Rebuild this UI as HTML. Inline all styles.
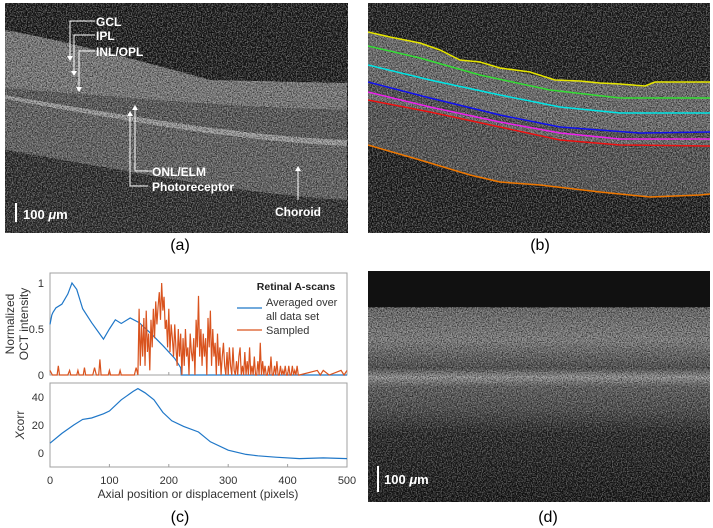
<!DOCTYPE html>
<html><head><meta charset="utf-8"><style>
body{margin:0;background:#fff;}
svg{display:block;font-family:"Liberation Sans",Arial,sans-serif;}
</style></head><body>
<svg id="fig" width="713" height="528" viewBox="0 0 713 528">
<defs>
<filter id="nz" x="0" y="0" width="100%" height="100%" color-interpolation-filters="sRGB">
<feTurbulence type="fractalNoise" baseFrequency="0.8" numOctaves="2" seed="3"/>
<feColorMatrix type="matrix" values="0 0 0 0 1  0 0 0 0 1  0 0 0 0 1  4 0 0 0 -1.7"/>
</filter>
<filter id="nzd" x="0" y="0" width="100%" height="100%" color-interpolation-filters="sRGB">
<feTurbulence type="fractalNoise" baseFrequency="0.8" numOctaves="2" seed="7"/>
<feColorMatrix type="matrix" values="0 0 0 0 0  0 0 0 0 0  0 0 0 0 0  -4 0 0 0 2.3"/>
</filter>
<clipPath id="ca"><rect x="5" y="3" width="343" height="230"/></clipPath>
<clipPath id="cb"><rect x="368" y="3" width="342" height="230"/></clipPath>
<clipPath id="cd"><rect x="368" y="271" width="342" height="231"/></clipPath>
<linearGradient id="gd" x1="0" y1="0" x2="0" y2="1">
<stop offset="0" stop-color="#111"/><stop offset="0.155" stop-color="#111"/><stop offset="0.16" stop-color="#6a6a6a"/><stop offset="0.3" stop-color="#808080"/><stop offset="0.42" stop-color="#4a4a4a"/><stop offset="0.46" stop-color="#999"/><stop offset="0.5" stop-color="#5e5e5e"/><stop offset="0.6" stop-color="#4a4a4a"/><stop offset="0.7" stop-color="#222"/><stop offset="1" stop-color="#111"/>
</linearGradient>
</defs>

<!-- Panel (a) -->
<g clip-path="url(#ca)">
<rect x="5" y="3" width="343" height="230" fill="#141414"/>
<path d="M5,30 C60,40 120,55 210,80 L347,83 L347,233 L5,233 Z" fill="#2a2a2a"/>
<path d="M5,30 C60,40 120,55 210,80 L347,83 L347,110 C250,108 150,100 5,88 Z" fill="#7a7a7a"/>
<path d="M5,88 C150,100 250,108 347,110 L347,140 C250,136 150,120 5,95 Z" fill="#555"/>
<path d="M5,95 C150,120 250,136 347,140 L347,146 C250,142 150,126 5,99 Z" fill="#a0a0a0"/>
<path d="M5,99 C150,126 250,142 347,146 L347,200 C250,195 150,175 5,150 Z" fill="#606060"/>
<path d="M5,150 C150,175 250,195 347,200 L347,233 L5,233 Z" fill="#262626"/>
<rect x="5" y="3" width="343" height="230" filter="url(#nzd)" opacity="0.55"/>
<rect x="5" y="3" width="343" height="230" filter="url(#nz)" opacity="0.35"/>
</g>
<g fill="#fff" font-weight="bold" font-size="12">
<polyline points="95,21 70,21 70,57" fill="none" stroke="#fff" stroke-width="1"/>
<polyline points="95,35 74,35 74,72" fill="none" stroke="#fff" stroke-width="1"/>
<polyline points="95,51 79,51 79,88" fill="none" stroke="#fff" stroke-width="1"/>
<path d="M67,56 L73,56 L70,61 Z M71,71 L77,71 L74,76 Z M76,87 L82,87 L79,92 Z"/>
<text x="96" y="26">GCL</text>
<text x="96" y="40">IPL</text>
<text x="96" y="56">INL/OPL</text>
<polyline points="152,171 135,171 135,110" fill="none" stroke="#fff"/>
<polyline points="148,186 130,186 130,116" fill="none" stroke="#fff"/>
<path d="M132,110 L138,110 L135,105 Z M127,116 L133,116 L130,111 Z"/>
<text x="152" y="176">ONL/ELM</text>
<text x="152" y="191">Photoreceptor</text>
<line x1="298" y1="170" x2="298" y2="200" stroke="#fff"/>
<path d="M295,171 L301,171 L298,166 Z"/>
<text x="275" y="216">Choroid</text>
<line x1="16" y1="203" x2="16" y2="222" stroke="#fff" stroke-width="2"/>
<text x="23" y="219" font-size="13">100 <tspan font-style="italic">μ</tspan>m</text>
</g>
<text x="180" y="250" text-anchor="middle" font-size="16">(a)</text>

<!-- Panel (b) -->
<g clip-path="url(#cb)">
<rect x="368" y="3" width="342" height="230" fill="#161616"/>
<path d="M368,32 L420,43 L460,60 L500,68 L555,80 L600,83 L645,86 L655,82 L710,82 L710,194 L700,195 L650,197 L600,192 L540,185 L500,182 L470,175 L420,160 L368,145 Z" fill="#6a6a6a"/>
<path d="M368,82 L430,98 L500,115 L560,127 L640,133 L710,132 L710,139 L620,139 L560,133 L500,122 L430,107 L368,92 Z" fill="#4a4a4a"/>
<path d="M368,100 L430,112 L500,127 L560,140 L620,145 L710,146 L710,194 L650,197 L600,192 L540,185 L500,182 L470,175 L420,160 L368,145 Z" fill="#505050"/>
<rect x="368" y="3" width="342" height="230" filter="url(#nzd)" opacity="0.55"/>
<rect x="368" y="3" width="342" height="230" filter="url(#nz)" opacity="0.35"/>
<g fill="none" stroke-width="1.5">
<polyline stroke="#e6e600" points="368,32 390,37 420,43 440,50 460,60 480,62 500,68 530,72 555,80 580,81 600,83 620,84 645,86 655,82 680,82 710,82"/>
<polyline stroke="#33dd33" points="368,46 420,58 480,75 550,90 620,98 710,98"/>
<polyline stroke="#00e6e6" points="368,65 430,80 500,95 560,107 620,113 710,113"/>
<polyline stroke="#1010ee" points="368,82 430,98 500,115 560,127 640,133 710,132"/>
<polyline stroke="#ee22ee" points="368,92 430,107 500,122 560,133 620,139 710,139"/>
<polyline stroke="#ee1111" points="368,100 430,112 500,127 560,140 620,145 710,146"/>
<polyline stroke="#ee7700" points="368,145 420,160 470,175 500,182 540,185 600,192 650,197 700,195 710,194"/>
</g>
</g>
<text x="540" y="250" text-anchor="middle" font-size="16">(b)</text>

<!-- Panel (d) -->
<g clip-path="url(#cd)">
<rect x="368" y="271" width="342" height="231" fill="url(#gd)"/>
<rect x="368" y="307" width="342" height="195" filter="url(#nzd)" opacity="0.55"/>
<rect x="368" y="307" width="342" height="195" filter="url(#nz)" opacity="0.3"/>
</g>
<line x1="378" y1="466" x2="378" y2="492" stroke="#fff" stroke-width="2"/>
<text x="384" y="484" fill="#fff" font-weight="bold" font-size="13">100 <tspan font-style="italic">μ</tspan>m</text>
<text x="548" y="522" text-anchor="middle" font-size="16">(d)</text>

<!-- Panel (c) chart -->
<g id="chart"></g>
<text x="180" y="522" text-anchor="middle" font-size="16">(c)</text>
</svg>
<script>
const avgX=[0,3,5,10,20,30,37,45,55,70,90,100,110,120,135,150,170,190,210,220,221,500];
const avgY=[0.55,0.65,0.68,0.73,0.77,0.88,1.0,0.93,0.72,0.57,0.39,0.5,0.6,0.56,0.62,0.57,0.45,0.32,0.18,0.08,0,0];
const smpX=[0,4,7,12,14,16,30,33,35,45,47,49,52,56,58,60,72,75,78,82,84,86,98,100,102,116,118,120,142,145,148,150,152,154,156,158,160,162,164,166,168,170,172,174,176,178,180,182,184,186,188,190,192,194,196,198,200,202,204,206,208,210,212,214,216,218,220,222,224,226,228,230,232,234,236,238,240,242,244,246,248,250,252,254,256,258,260,262,264,266,268,270,272,274,276,278,280,282,284,286,288,290,292,294,296,298,300,302,304,306,308,310,312,314,316,318,320,322,324,326,328,330,332,334,336,338,340,342,344,346,348,350,352,354,356,358,360,362,364,366,368,370,372,374,376,378,380,382,384,386,388,390,392,394,396,398,400,402,404,406,408,410,412,414,416,418,420,450,455,460,470,490,495,500];
const smpY=[0.05,0,0,0,0.1,0,0,0.05,0,0,0.05,0,0,0,0.08,0,0,0.08,0,0,0.17,0,0,0.05,0,0,0.05,0,0,0.08,0,0.72,0.1,0.55,0.2,0.62,0.1,0.7,0.25,0.45,0.05,0.6,0.3,0.72,0.4,0.8,0.55,0.75,0.9,0.6,1.0,0.7,0.85,0.5,0.6,0.3,0.72,0.25,0.55,0.4,0.2,0.55,0.3,0.1,0.5,0.2,0.45,0.0,0.4,0.1,0.5,0.2,0.3,0.0,0.45,0.25,0.15,0.4,0.0,0.6,0.3,0.86,0.2,0.5,0.1,0.45,0.2,0.4,0.0,0.62,0.3,0.7,0.1,0.5,0.2,0.35,0.0,0.45,0.1,0.3,0.0,0.2,0.35,0.1,0.0,0.25,0.0,0.3,0.1,0.0,0.3,0.05,0.0,0.15,0.0,0.2,0.3,0.0,0.1,0.0,0.25,0.0,0.15,0.0,0.3,0.0,0.1,0.0,0.2,0.0,0.0,0.15,0.0,0.35,0.0,0.15,0.0,0.1,0.0,0.0,0.1,0.0,0.2,0.0,0.0,0.1,0.0,0.15,0.0,0.0,0.1,0.0,0.05,0.0,0.1,0.0,0.0,0.1,0.0,0.0,0.1,0.0,0.05,0.0,0.1,0.0,0.0,0.05,0.0,0.05,0,0.05,0,0.05,0];
const xcX=[0,20,40,55,70,90,100,120,140,148,160,175,190,205,225,250,270,300,330,350,380,420,460,500];
const xcY=[7,14,20,24,25,28,30,38,44,46,43,38,29,23,19,15,8,2,-1,-2,-3,-4,-3.5,-4];
const xTicks=[0,100,200,300,400,500];
const topTicks=[0,0.5,1];
const botTicks=[0,20,40];

const NS="http://www.w3.org/2000/svg";
const g=document.getElementById('chart');
const L=50,R=347,T1=273,B1=375,T2=383,B2=467;
const sx=v=>L+(v/500)*(R-L);
const sy1=v=>375-v*92;
const sy2=v=>453-v*1.4;
function mk(t,a,p){const e=document.createElementNS(NS,t);for(const k in a)e.setAttribute(k,a[k]);(p||g).appendChild(e);return e;}
const box1=mk('rect',{x:L,y:T1,width:R-L,height:B1-T1,fill:'none',stroke:'#a0a0a0'});


const box2=mk('rect',{x:L,y:T2,width:R-L,height:B2-T2,fill:'none',stroke:'#a0a0a0'});


xTicks.forEach(v=>{
  const t=mk('text',{x:sx(v),y:484,'text-anchor':'middle','font-size':11,fill:'#333'});t.textContent=v;
  
  
  mk('line',{x1:sx(v),x2:sx(v),y1:B2,y2:B2-3,stroke:'#a0a0a0'});
  mk('line',{x1:sx(v),x2:sx(v),y1:B1,y2:B1-3,stroke:'#a0a0a0'});
});
topTicks.forEach(v=>{
  const t=mk('text',{x:L-6,y:sy1(v)+4,'text-anchor':'end','font-size':11,fill:'#333'});t.textContent=v;
  
  
});
botTicks.forEach(v=>{
  const t=mk('text',{x:L-6,y:sy2(v)+4,'text-anchor':'end','font-size':11,fill:'#333'});t.textContent=v;
  
  
});
function line(xs,ys,fy,col,name){
  const p=mk('polyline',{points:xs.map((x,i)=>sx(x)+','+fy(ys[i])).join(' '),fill:'none',stroke:col,'stroke-width':1.2});
  
  
}
line(avgX,avgY,sy1,'#1f77c8','series-averaged');
line(smpX,smpY,sy1,'#d9531e','series-sampled');
line(xcX,xcY,sy2,'#1f77c8','series-xcorr');
const lg=mk('g',{});


mk('text',{x:296,y:290,'text-anchor':'middle','font-size':10.5,'font-weight':'bold',fill:'#222'},lg).textContent='Retinal A-scans';
mk('line',{x1:237,x2:262,y1:308,y2:308,stroke:'#1f77c8','stroke-width':1.2},lg);
mk('text',{x:266,y:306,'font-size':11,fill:'#333'},lg).textContent='Averaged over';
mk('text',{x:266,y:320,'font-size':11,fill:'#333'},lg).textContent='all data set';
mk('line',{x1:237,x2:262,y1:330,y2:330,stroke:'#d9531e','stroke-width':1.2},lg);
mk('text',{x:266,y:334,'font-size':11,fill:'#333'},lg).textContent='Sampled';
const yl1=mk('text',{x:0,y:0,'text-anchor':'middle','font-size':12,fill:'#333',transform:'translate(14,324) rotate(-90)'});
yl1.textContent='Normalized';


const yl1b=mk('text',{x:0,y:0,'text-anchor':'middle','font-size':12,fill:'#333',transform:'translate(28,324) rotate(-90)'});
yl1b.textContent='OCT intensity';


const yl2=mk('text',{x:0,y:0,'text-anchor':'middle','font-size':12,fill:'#333',transform:'translate(24,425) rotate(-90)'});
yl2.innerHTML='<tspan font-style="italic">X</tspan>corr';


const xl=mk('text',{x:198,y:498,'text-anchor':'middle','font-size':12,fill:'#333'});
xl.textContent='Axial position or displacement (pixels)';


</script>
</body></html>
